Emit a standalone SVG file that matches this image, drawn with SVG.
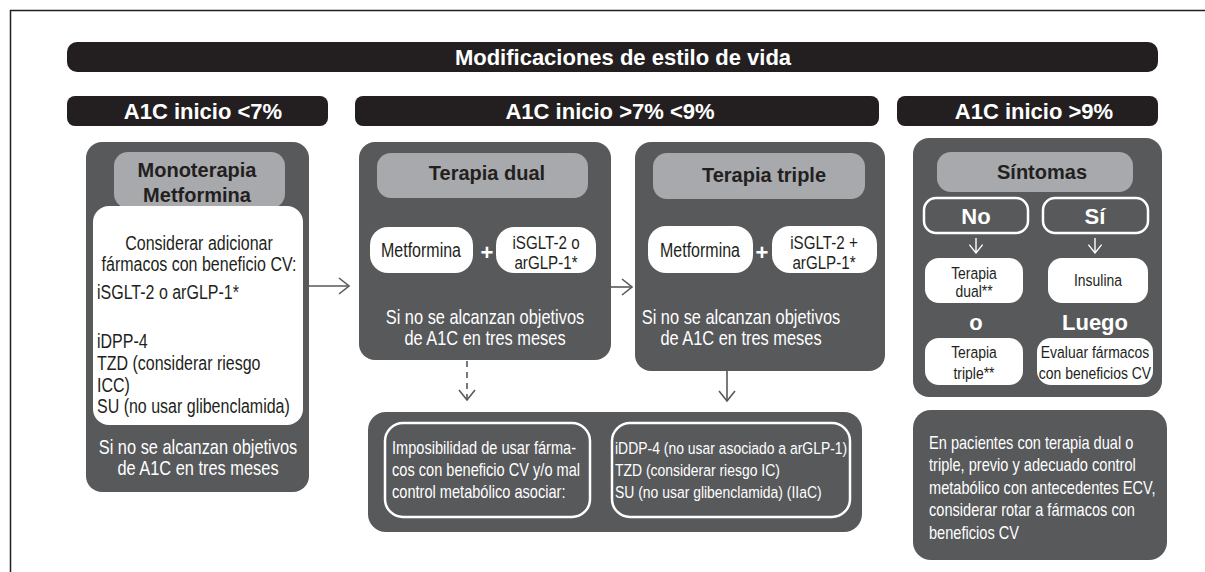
<svg xmlns="http://www.w3.org/2000/svg" width="1205" height="572" viewBox="0 0 1205 572">
<style>
.bar{fill:#231f20}
.panel{fill:#58595b}
.hdr{fill:#a7a9ac}
.wbox{fill:#ffffff}
.obox{fill:none;stroke:#ffffff;stroke-width:2.5}
.tb{font-family:"Liberation Sans",Arial,sans-serif;font-weight:bold;font-size:22px;fill:#ffffff;text-anchor:middle}
.th{font-family:"Liberation Sans",Arial,sans-serif;font-weight:bold;font-size:20px;fill:#231f20;text-anchor:middle}
.tw{font-family:"Liberation Sans",Arial,sans-serif;font-size:20px;fill:#ffffff;text-anchor:middle}
.tk{font-family:"Liberation Sans",Arial,sans-serif;font-size:19.5px;fill:#231f20}
.tkp{font-family:"Liberation Sans",Arial,sans-serif;font-size:18.5px;fill:#231f20;text-anchor:middle}
.tks{font-family:"Liberation Sans",Arial,sans-serif;font-size:17px;fill:#231f20;text-anchor:middle}
.tws{font-family:"Liberation Sans",Arial,sans-serif;font-size:17.8px;fill:#ffffff}
.tws2{font-family:"Liberation Sans",Arial,sans-serif;font-size:17px;fill:#ffffff}
.c{text-anchor:middle}
.plus{font-family:"Liberation Sans",Arial,sans-serif;font-weight:bold;font-size:22px;fill:#ffffff;text-anchor:middle}
.con{fill:none;stroke:#58595b;stroke-width:1.6}
.conw{fill:none;stroke:#ffffff;stroke-width:1.4}
</style>
<defs>
<marker id="ah" viewBox="0 0 12 18" refX="11" refY="9" markerWidth="12" markerHeight="18" markerUnits="userSpaceOnUse" orient="auto">
<path d="M1,1 L11,9 L1,17" fill="none" stroke="#58595b" stroke-width="1.6"/>
</marker>
<marker id="ahw" viewBox="0 0 12 18" refX="11" refY="9" markerWidth="10" markerHeight="15" markerUnits="userSpaceOnUse" orient="auto">
<path d="M1,1 L11,9 L1,17" fill="none" stroke="#ffffff" stroke-width="1.6"/>
</marker>
</defs>

<g id="frame">
<path d="M10.5,572 L10.5,10.5 L1205,10.5" fill="none" stroke="#231f20" stroke-width="1.5"/>
</g>

<g id="bar-lifestyle">
<rect class="bar" x="67" y="42" width="1091" height="30" rx="10"/>
<text class="tb" x="623" y="65">Modificaciones de estilo de vida</text>
</g>
<g id="bar-lt7">
<rect class="bar" x="67" y="96" width="261" height="30" rx="8"/>
<text class="tb" x="203" y="119">A1C inicio &lt;7%</text>
</g>
<g id="bar-7to9">
<rect class="bar" x="355" y="96" width="524" height="30" rx="8"/>
<text class="tb" x="610" y="119">A1C inicio &gt;7% &lt;9%</text>
</g>
<g id="bar-gt9">
<rect class="bar" x="897" y="96" width="261" height="30" rx="8"/>
<text class="tb" x="1034" y="119">A1C inicio &gt;9%</text>
</g>

<g id="panel-mono">
<rect class="panel" x="86" y="142" width="223" height="350" rx="16"/>
<rect class="hdr" x="114" y="152" width="171" height="56" rx="14"/>
<text class="th" x="197" y="177">Monoterapia</text>
<text class="th" x="197" y="202">Metformina</text>
<rect class="wbox" x="93" y="206" width="210" height="219" rx="16"/>
<text class="tk c" transform="translate(199,250) scale(0.82,1)">Considerar adicionar</text>
<text class="tk c" transform="translate(199,271) scale(0.82,1)">fármacos con beneficio CV:</text>
<text class="tk" transform="translate(97,299) scale(0.82,1)">iSGLT-2 o arGLP-1*</text>
<text class="tk" transform="translate(97,348) scale(0.82,1)">iDPP-4</text>
<text class="tk" transform="translate(97,370) scale(0.82,1)">TZD (considerar riesgo</text>
<text class="tk" transform="translate(97,392) scale(0.82,1)">ICC)</text>
<text class="tk" transform="translate(97,413) scale(0.82,1)">SU (no usar glibenclamida)</text>
<text class="tw" transform="translate(198,454) scale(0.82,1)">Si no se alcanzan objetivos</text>
<text class="tw" transform="translate(198,475) scale(0.82,1)">de A1C en tres meses</text>
</g>

<g id="panel-dual">
<rect class="panel" x="359" y="142" width="252" height="218" rx="16"/>
<rect class="hdr" x="377" y="153" width="211" height="45" rx="14"/>
<text class="th" x="487" y="180">Terapia dual</text>
<rect class="wbox" x="370" y="227" width="103" height="46" rx="18"/>
<text class="tk c" transform="translate(421,257) scale(0.82,1)">Metformina</text>
<text class="plus" x="487" y="260">+</text>
<rect class="wbox" x="496" y="227" width="100" height="46" rx="18"/>
<text class="tkp" transform="translate(546,249) scale(0.82,1)">iSGLT-2 o</text>
<text class="tkp" transform="translate(546,269) scale(0.82,1)">arGLP-1*</text>
<text class="tw" transform="translate(485,324) scale(0.82,1)">Si no se alcanzan objetivos</text>
<text class="tw" transform="translate(485,345) scale(0.82,1)">de A1C en tres meses</text>
</g>

<g id="panel-triple">
<rect class="panel" x="635" y="142" width="250" height="229" rx="16"/>
<rect class="hdr" x="653" y="153" width="212" height="46" rx="14"/>
<text class="th" x="764" y="182">Terapia triple</text>
<rect class="wbox" x="648" y="226" width="105" height="47" rx="18"/>
<text class="tk c" transform="translate(700,257) scale(0.82,1)">Metformina</text>
<text class="plus" x="762" y="260">+</text>
<rect class="wbox" x="772" y="226" width="105" height="47" rx="18"/>
<text class="tkp" transform="translate(824,249) scale(0.82,1)">iSGLT-2 +</text>
<text class="tkp" transform="translate(824,269) scale(0.82,1)">arGLP-1*</text>
<text class="tw" transform="translate(741,324) scale(0.82,1)">Si no se alcanzan objetivos</text>
<text class="tw" transform="translate(741,345) scale(0.82,1)">de A1C en tres meses</text>
</g>

<g id="panel-alternatives">
<rect class="panel" x="368" y="412" width="494" height="120" rx="18"/>
<rect class="obox" x="385" y="423" width="205" height="94" rx="18"/>
<text class="tws" transform="translate(392,454) scale(0.82,1)">Imposibilidad de usar fárma-</text>
<text class="tws" transform="translate(392,476) scale(0.82,1)">cos con beneficio CV y/o mal</text>
<text class="tws" transform="translate(392,498) scale(0.82,1)">control metabólico asociar:</text>
<rect class="obox" x="612" y="423" width="238" height="94" rx="18"/>
<text class="tws2" transform="translate(615,454) scale(0.82,1)">iDDP-4 (no usar asociado a arGLP-1)</text>
<text class="tws2" transform="translate(615,476) scale(0.82,1)">TZD (considerar riesgo IC)</text>
<text class="tws2" transform="translate(615,498) scale(0.82,1)">SU (no usar glibenclamida) (IIaC)</text>
</g>

<g id="panel-symptoms">
<rect class="panel" x="913" y="138" width="249" height="259" rx="16"/>
<rect class="hdr" x="937" y="152" width="196" height="40" rx="14"/>
<text class="th" x="1042" y="179">Síntomas</text>
<rect class="obox" x="924" y="198" width="104" height="35" rx="12"/>
<text class="tb" x="976" y="224">No</text>
<rect class="obox" x="1043" y="198" width="105" height="35" rx="12"/>
<text class="tb" x="1095" y="224">Sí</text>
<rect class="wbox" x="925" y="258" width="98" height="45" rx="14"/>
<text class="tks" transform="translate(974,279) scale(0.82,1)">Terapia</text>
<text class="tks" transform="translate(974,297) scale(0.82,1)">dual**</text>
<rect class="wbox" x="1048" y="258" width="100" height="45" rx="14"/>
<text class="tks" transform="translate(1098,286) scale(0.82,1)">Insulina</text>
<text class="tb" x="976" y="330">o</text>
<text class="tb" x="1095" y="330">Luego</text>
<rect class="wbox" x="925" y="338" width="98" height="47" rx="14"/>
<text class="tks" transform="translate(974,358) scale(0.82,1)">Terapia</text>
<text class="tks" transform="translate(974,379) scale(0.82,1)">triple**</text>
<rect class="wbox" x="1037" y="338" width="116" height="47" rx="14"/>
<text class="tks" transform="translate(1095,358) scale(0.82,1)">Evaluar fármacos</text>
<text class="tks" transform="translate(1095,379) scale(0.82,1)">con beneficios CV</text>
</g>

<g id="panel-note">
<rect class="panel" x="913" y="410" width="254" height="150" rx="18"/>
<text class="tws" transform="translate(929,449) scale(0.82,1)">En pacientes con terapia dual o</text>
<text class="tws" transform="translate(929,471) scale(0.82,1)">triple, previo y adecuado control</text>
<text class="tws" transform="translate(929,494) scale(0.82,1)">metabólico con antecedentes ECV,</text>
<text class="tws" transform="translate(929,516) scale(0.82,1)">considerar rotar a fármacos con</text>
<text class="tws" transform="translate(929,539) scale(0.82,1)">beneficios CV</text>
</g>

<g id="connectors">
<path class="con" d="M309,286 L349,286" marker-end="url(#ah)"/>
<path class="con" d="M611,287 L632,287" marker-end="url(#ah)"/>
<path class="con" d="M467,361 L467,400" stroke-dasharray="6,5" marker-end="url(#ah)"/>
<path class="con" d="M727,371 L727,401" marker-end="url(#ah)"/>
<path class="conw" d="M976,238 L976,253" marker-end="url(#ahw)"/>
<path class="conw" d="M1095,238 L1095,253" marker-end="url(#ahw)"/>
</g>
</svg>
